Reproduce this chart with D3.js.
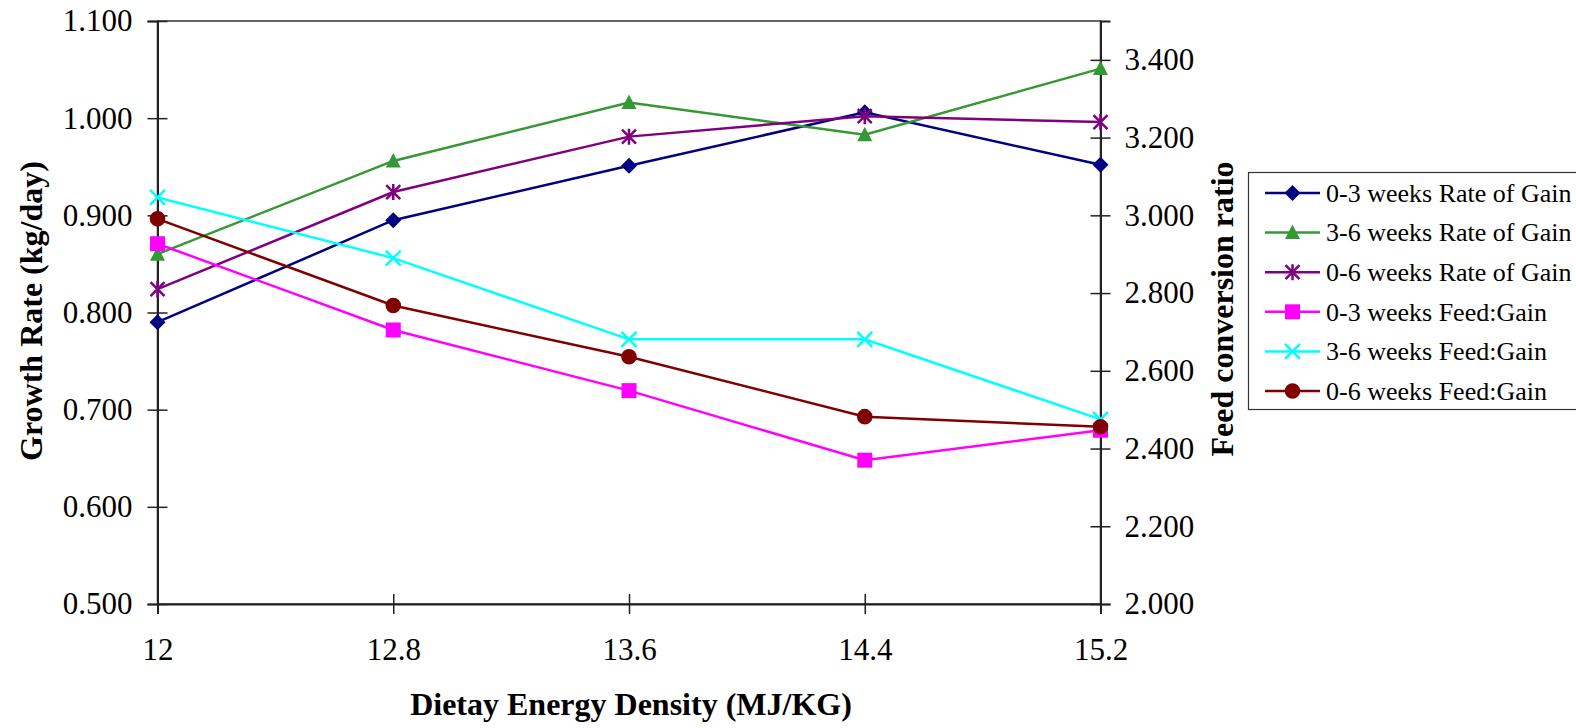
<!DOCTYPE html>
<html>
<head>
<meta charset="utf-8">
<script src="https://cdn.jsdelivr.net/npm/d3@7"></script>
<style>
  html, body { margin: 0; padding: 0; background: #fff; }
  svg { display: block; font-family: "Liberation Serif", "Times New Roman", serif; }
</style>
</head>
<body>
<div id="chart"></div>
<script>
// data
const energyLevels = ['12', '12.8', '13.6', '14.4', '15.2'];
const gain0to3 = [0.790, 0.895, 0.951, 1.006, 0.952];
const gain3to6 = [0.860, 0.956, 1.016, 0.983, 1.051];
const gain0to6 = [0.824, 0.924, 0.981, 1.002, 0.996];
const feed0to3 = [2.927, 2.705, 2.549, 2.370, 2.447];
const feed3to6 = [3.046, 2.890, 2.681, 2.681, 2.475];
const feed0to6 = [2.991, 2.768, 2.636, 2.482, 2.456];
const leftTicks = [0.5, 0.6, 0.7, 0.8, 0.9, 1.0, 1.1];
const rightTicks = [2.0, 2.2, 2.4, 2.6, 2.8, 3.0, 3.2, 3.4];

const series = [
  { name: '0-3 weeks Rate of Gain', values: gain0to3, axis: 'left', color: '#000080', marker: 'diamond' },
  { name: '3-6 weeks Rate of Gain', values: gain3to6, axis: 'left', color: '#339933', marker: 'triangle' },
  { name: '0-6 weeks Rate of Gain', values: gain0to6, axis: 'left', color: '#800080', marker: 'star' },
  { name: '0-3 weeks Feed:Gain', values: feed0to3, axis: 'right', color: '#ff00ff', marker: 'square' },
  { name: '3-6 weeks Feed:Gain', values: feed3to6, axis: 'right', color: '#00ffff', marker: 'cross' },
  { name: '0-6 weeks Feed:Gain', values: feed0to6, axis: 'right', color: '#800000', marker: 'circle' }
];

const W = 1576, H = 728;
const plot = { left: 157.5, right: 1100.5, top: 21, bottom: 604 };
const serif = '"Liberation Serif", "Times New Roman", serif';

const svg = d3.select('#chart').append('svg').attr('width', W).attr('height', H);

const x = d3.scalePoint().domain(energyLevels).range([plot.left, plot.right]);
const yL = d3.scaleLinear().domain([0.5, 1.1]).range([plot.bottom, plot.top]);
const yR = d3.scaleLinear().domain([2.0, 3.5]).range([plot.bottom, plot.top]);

// frame
svg.append('rect')
  .attr('x', plot.left).attr('y', plot.top)
  .attr('width', plot.right - plot.left).attr('height', plot.bottom - plot.top)
  .attr('fill', 'none').attr('stroke', '#333').attr('stroke-width', 1.5);

function styleAxis(g, crossAttr, size) {
  g.attr('font-family', serif).attr('font-size', 31);
  g.select('.domain').attr('stroke', '#222').attr('stroke-width', 2);
  g.selectAll('.tick line').attr('stroke', '#222').attr('stroke-width', 1.5).attr(crossAttr, size);
  g.selectAll('.tick text').attr('fill', '#000');
}

const gL = svg.append('g').attr('transform', `translate(${plot.left},0)`)
  .call(d3.axisLeft(yL).tickValues(leftTicks).tickFormat(d3.format('.3f')).tickSize(10).tickPadding(15));
styleAxis(gL, 'x1', 10);

const gR = svg.append('g').attr('transform', `translate(${plot.right},0)`)
  .call(d3.axisRight(yR).tickValues(rightTicks).tickFormat(d3.format('.3f')).tickSizeOuter(0).tickSize(10).tickPadding(14));
styleAxis(gR, 'x1', -10);

const gB = svg.append('g').attr('transform', `translate(0,${plot.bottom})`)
  .call(d3.axisBottom(x).tickSize(10).tickPadding(24));
styleAxis(gB, 'y1', -10);
gB.selectAll('.tick text').attr('dy', '0.71em');

// axis titles
svg.append('text')
  .attr('x', (plot.left + plot.right) / 2 + 2).attr('y', 715)
  .attr('text-anchor', 'middle').style('font-size', '32px').style('font-weight', 'bold')
  .text('Dietay Energy Density (MJ/KG)');
svg.append('text')
  .attr('transform', 'translate(42,311) rotate(-90)')
  .attr('text-anchor', 'middle').style('font-size', '32px').style('font-weight', 'bold')
  .text('Growth Rate (kg/day)');
svg.append('text')
  .attr('transform', 'translate(1233,309) rotate(-90)')
  .attr('text-anchor', 'middle').style('font-size', '32px').style('font-weight', 'bold')
  .text('Feed conversion ratio');

// marker shapes
function markerPath(type) {
  switch (type) {
    case 'diamond': return 'M0,-8L8,0L0,8L-8,0Z';
    case 'triangle': return 'M0,-8L7.5,6.5L-7.5,6.5Z';
    case 'square': return 'M-7.5,-7.5H7.5V7.5H-7.5Z';
    case 'circle': return 'M7.8,0A7.8,7.8 0 1,1 -7.8,0A7.8,7.8 0 1,1 7.8,0Z';
    case 'star': return 'M-7,-7L7,7M-7,7L7,-7M0,-8V8';
    case 'cross': return 'M-7.5,-7.5L7.5,7.5M-7.5,7.5L7.5,-7.5';
  }
}
const stroked = t => t === 'star' || t === 'cross';

function drawMarker(g, s, px, py) {
  const m = g.append('path')
    .attr('d', markerPath(s.marker))
    .attr('transform', `translate(${px},${py})`);
  if (stroked(s.marker)) {
    m.attr('fill', 'none').attr('stroke', s.color).attr('stroke-width', 2.5);
  } else {
    m.attr('fill', s.color).attr('stroke', 'none');
  }
}

const line = d3.line();
series.forEach(s => {
  const y = s.axis === 'left' ? yL : yR;
  const pts = s.values.map((v, i) => [x(energyLevels[i]), y(v)]);
  const g = svg.append('g');
  g.append('path').attr('d', line(pts))
    .attr('fill', 'none').attr('stroke', s.color).attr('stroke-width', 2.5);
  pts.forEach(p => drawMarker(g, s, p[0], p[1]));
});

// legend
const legend = svg.append('g');
legend.append('rect')
  .attr('x', 1248.5).attr('y', 172.5).attr('width', 340).attr('height', 237)
  .attr('fill', '#fff').attr('stroke', '#333').attr('stroke-width', 1.2);
series.forEach((s, i) => {
  const cy = 193 + i * 39.6;
  const row = legend.append('g');
  row.append('line').attr('x1', 1265).attr('x2', 1320).attr('y1', cy).attr('y2', cy)
    .attr('stroke', s.color).attr('stroke-width', 2.5);
  drawMarker(row, s, 1292.5, cy);
  row.append('text').attr('x', 1326).attr('y', cy).attr('dy', '0.34em')
    .style('font-size', '26px').text(s.name);
});
</script>
</body>
</html>
